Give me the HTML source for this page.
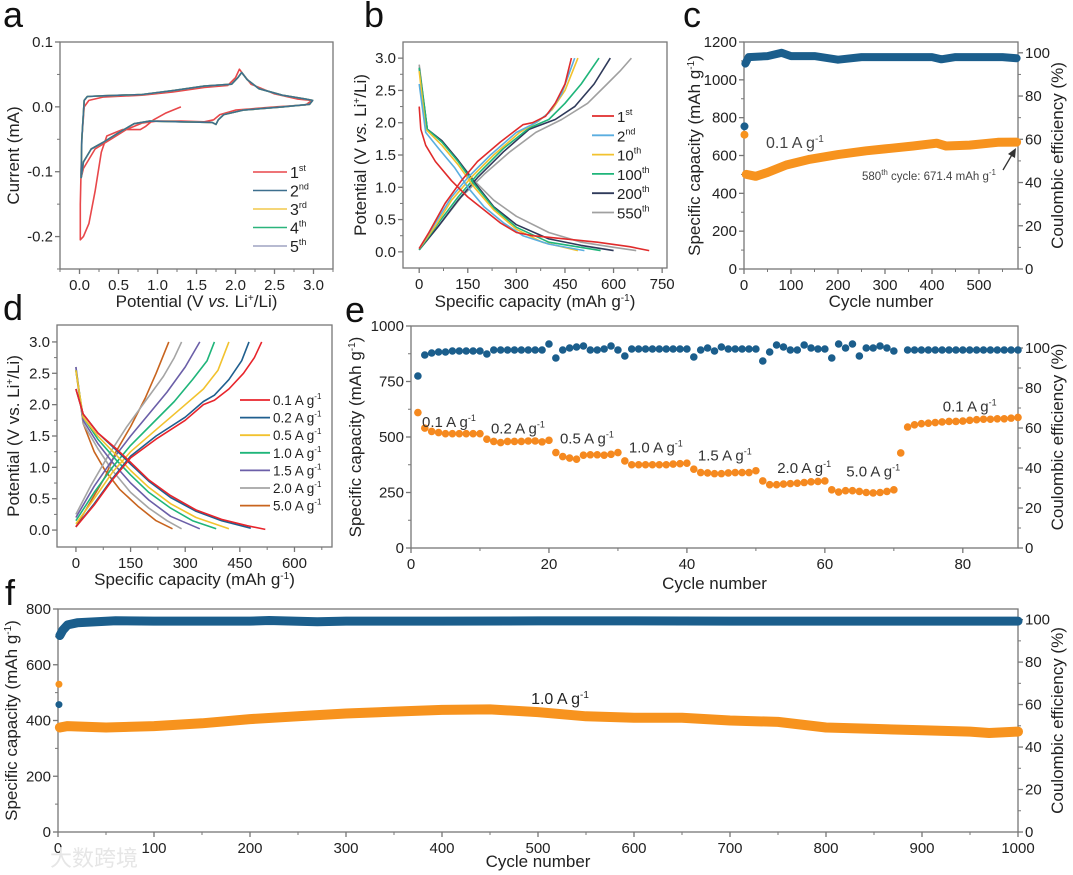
<!DOCTYPE html>
<html><head><meta charset="utf-8">
<style>
html,body{margin:0;padding:0;background:#fff;}
svg{display:block;font-family:"Liberation Sans",sans-serif;}
.n{font-family:"Liberation Sans Narrow","Liberation Sans",sans-serif;}
</style></head>
<body>
<svg id="fig" width="1073" height="875" viewBox="0 0 1073 875" xmlns="http://www.w3.org/2000/svg"></svg>
<script>
// ---------- Panel a data (CV) ----------
const cvCycle1 = [[1.3,0],[1.1,-0.01],[0.95,-0.02],[0.85,-0.03],[0.78,-0.035],[0.7,-0.035],[0.55,-0.035],[0.45,-0.04],[0.35,-0.045],[0.28,-0.07],[0.2,-0.13],[0.12,-0.18],[0.05,-0.2],[0.01,-0.205],[0.01,-0.15],[0.03,-0.05],[0.06,0],[0.12,0.01],[0.3,0.015],[0.8,0.018],[1.2,0.023],[1.6,0.03],[1.9,0.033],[2.0,0.045],[2.05,0.058],[2.1,0.05],[2.2,0.035],[2.5,0.02],[2.8,0.012],[2.98,0.01],[2.9,0.003],[2.5,0],[2.0,-0.005],[1.8,-0.012],[1.72,-0.02],[1.6,-0.023],[1.3,-0.022],[1.0,-0.022],[0.8,-0.025],[0.6,-0.035],[0.4,-0.05],[0.2,-0.065],[0.05,-0.095],[0.02,-0.11]];
const cvLater = [[0.02,-0.11],[0.03,-0.05],[0.06,0.01],[0.1,0.016],[0.3,0.017],[0.8,0.019],[1.2,0.025],[1.6,0.032],[1.95,0.035],[2.03,0.045],[2.08,0.053],[2.15,0.042],[2.3,0.028],[2.6,0.018],[2.9,0.012],[2.99,0.01],[2.95,0.004],[2.6,0],[2.1,-0.005],[1.85,-0.012],[1.78,-0.02],[1.75,-0.027],[1.7,-0.024],[1.3,-0.023],[0.9,-0.022],[0.7,-0.026],[0.5,-0.04],[0.3,-0.055],[0.15,-0.065],[0.05,-0.085],[0.02,-0.11]];
const cvLabels = ["1","2","3","4","5"];
const cvSup = ["st","nd","rd","th","th"];
const cvColors = ["#e8474a","#3d6f8e","#f2c94c","#2bb47c","#9fa3c2"];

// ---------- Panel b data (GCD per cycle) ----------
const bLabels=["1","2","10","100","200","550"];
const bSup=["st","nd","th","th","th","th"];
const bColors=["#e02b2b","#5aaee0","#f2c22e","#1fb57a","#2f3a5a","#a0a0a0"];
const bDis=[
[[0,2.25],[5,1.9],[20,1.65],[50,1.4],[100,1.1],[150,0.85],[200,0.65],[250,0.45],[300,0.3],[350,0.25],[450,0.2],[550,0.15],[650,0.08],[710,0.02]],
[[0,2.6],[20,1.85],[60,1.6],[110,1.3],[150,1.0],[200,0.7],[260,0.45],[320,0.25],[400,0.12],[510,0.02]],
[[0,2.8],[20,1.9],[70,1.65],[120,1.35],[170,1.0],[230,0.65],[300,0.35],[380,0.15],[490,0.02]],
[[0,2.85],[25,1.9],[70,1.7],[120,1.4],[170,1.05],[230,0.68],[300,0.38],[400,0.15],[560,0.02]],
[[0,2.85],[25,1.9],[70,1.72],[120,1.42],[170,1.08],[230,0.7],[300,0.42],[400,0.2],[500,0.1],[600,0.02]],
[[0,2.9],[25,1.9],[70,1.72],[120,1.42],[170,1.1],[230,0.8],[300,0.55],[400,0.3],[500,0.15],[600,0.07],[670,0.02]]];
const bCh=[
[[0,0.05],[30,0.3],[80,0.75],[130,1.1],[180,1.4],[250,1.7],[320,1.97],[350,2.0],[390,2.1],[420,2.3],[450,2.6],[470,3.0]],
[[0,0.05],[50,0.45],[100,0.85],[150,1.15],[220,1.5],[300,1.85],[360,2.0],[400,2.15],[440,2.45],[480,3.0]],
[[0,0.05],[50,0.4],[100,0.8],[160,1.15],[230,1.5],[310,1.85],[370,2.03],[410,2.2],[450,2.5],[490,3.0]],
[[0,0.03],[60,0.45],[120,0.85],[180,1.2],[260,1.6],[340,1.92],[400,2.05],[450,2.3],[500,2.6],[555,3.0]],
[[0,0.03],[60,0.4],[120,0.8],[180,1.15],[260,1.55],[340,1.9],[420,2.05],[480,2.25],[540,2.6],[590,3.0]],
[[0,0.03],[60,0.4],[130,0.85],[200,1.2],[280,1.55],[360,1.85],[440,2.05],[520,2.3],[580,2.6],[620,2.8],[655,3.0]]];

// ---------- Panel c data ----------
const cCapCycles=[1,5,25,50,90,140,200,260,300,360,410,430,480,540,580];
const cCapVals=[710,500,490,510,550,580,605,625,635,650,665,650,655,670,671];
const cCeCycles=[1,3,10,50,80,100,150,200,250,300,350,400,420,450,500,550,580];
const cCeVals=[66,95,98,98.5,100,98.5,98.5,96.8,98,98,98,98,97,98,98,98,97.5];

// ---------- Panel d data ----------
const dLabels=["0.1","0.2","0.5","1.0","1.5","2.0","5.0"];
const dColors=["#e8242b","#1f5f8f","#f2c22e","#1fb57a","#6b5fa8","#a5a5a5","#c8641e"];
const dDis=[
[[0,2.25],[20,1.85],[60,1.55],[110,1.3],[150,1.08],[200,0.8],[260,0.55],[330,0.32],[400,0.17],[470,0.07],[520,0.01]],
[[0,2.25],[20,1.85],[60,1.55],[110,1.28],[150,1.05],[200,0.78],[260,0.52],[330,0.3],[400,0.15],[480,0.03]],
[[0,2.55],[20,1.8],[60,1.5],[110,1.2],[150,0.95],[200,0.68],[260,0.42],[330,0.2],[420,0.02]],
[[0,2.55],[20,1.8],[60,1.45],[110,1.12],[150,0.88],[200,0.6],[260,0.35],[320,0.15],[385,0.02]],
[[0,2.6],[20,1.75],[60,1.38],[100,1.08],[150,0.75],[200,0.48],[260,0.22],[340,0.02]],
[[0,2.6],[20,1.7],[60,1.3],[100,0.95],[150,0.6],[200,0.35],[250,0.15],[290,0.02]],
[[0,2.55],[20,1.7],[50,1.25],[80,0.95],[120,0.65],[170,0.38],[220,0.15],[265,0.02]]];
const dCh=[
[[0,0.05],[50,0.4],[100,0.8],[150,1.15],[220,1.45],[300,1.75],[350,2.0],[380,2.07],[420,2.25],[460,2.5],[490,2.75],[510,3.0]],
[[0,0.05],[50,0.42],[100,0.82],[150,1.18],[220,1.5],[300,1.8],[350,2.05],[380,2.15],[420,2.4],[455,2.7],[475,3.0]],
[[0,0.1],[50,0.5],[100,0.92],[150,1.25],[220,1.6],[290,1.95],[350,2.25],[390,2.55],[420,3.0]],
[[0,0.15],[50,0.6],[100,1.0],[150,1.35],[210,1.7],[270,2.05],[320,2.4],[360,2.7],[380,3.0]],
[[0,0.2],[50,0.7],[100,1.12],[150,1.5],[200,1.85],[250,2.2],[300,2.6],[340,3.0]],
[[0,0.25],[40,0.7],[90,1.2],[140,1.65],[190,2.05],[240,2.45],[270,2.75],[290,3.0]],
[[0,0.05],[40,0.45],[80,0.85],[110,1.25],[150,1.65],[190,2.1],[220,2.5],[255,3.0]]];

// ---------- Panel e data (cycle 1..88) ----------
const eCap=[610,540,525,520,515,515,515,515,515,515,490,480,475,480,480,480,482,482,478,485,430,412,405,400,418,420,420,418,422,430,392,375,375,375,375,375,375,378,380,382,355,340,338,335,335,338,340,340,340,348,302,285,285,288,290,292,295,298,300,302,262,252,258,258,255,250,248,250,255,262,428,545,555,560,562,565,568,570,570,572,575,578,580,580,582,582,585,588];
const eCe=[86,96.5,97.5,98,98,98.5,98.5,98.5,98.5,98.5,97,99,99,99,99,99,99,99,99,102,95,99,100,100.5,101,99,99,99.5,101,99,96,99.5,99.5,99.5,99.5,99.5,99.5,99.5,99.5,99.5,95.5,99,100,98.5,100.5,99.5,99.5,99.5,99.5,99.5,93.5,98,101.5,100.5,99,99,101.5,100,99.5,99.5,95,102,100,102,96,100,100,101,100,98.5,null,99,99,99,99,99,99,99,99,99,99,99,99,99,99,99,99,99];
const eRateLabels=["0.1","0.2","0.5","1.0","1.5","2.0","5.0","0.1"];
const eRateCycle=[5.5,15.5,25.5,35.5,45.5,57,67,81];
const eRateCap=[545,515,470,430,395,338,322,615];

// ---------- Panel f data ----------
const fCapCycles=[1,2,10,50,100,150,200,250,300,350,400,450,500,550,600,650,700,750,800,850,900,950,970,1000];
const fCapVals=[530,375,380,375,380,390,405,415,425,432,438,440,430,415,410,410,400,395,375,370,365,360,355,360];
const fCeCycles=[1,2,5,10,20,60,100,200,220,270,300,400,500,600,700,800,900,1000];
const fCeVals=[60,92.5,95,97.5,98.5,99.5,99.3,99.3,99.6,99,99.3,99.3,99.4,99.4,99.3,99.3,99.3,99.3];

// ================= drawing =================
const NS="http://www.w3.org/2000/svg";
const svg=document.getElementById('fig');
function el(tag,attrs,parent){const e=document.createElementNS(NS,tag);for(const k in attrs)e.setAttribute(k,attrs[k]);(parent||svg).appendChild(e);return e;}
function scale(d0,d1,p0,p1){return v=>p0+(v-d0)/(d1-d0)*(p1-p0);}
function txt(x,y,s,size,anchor,parent,extra){const t=el('text',Object.assign({x:x,y:y,'font-size':size,'text-anchor':anchor||'middle',fill:'#222'},extra||{}),parent);t.innerHTML=s;return t;}
const AX='#777';
function axes(g,P){
  const f=el('rect',{x:P.x0,y:P.y1,width:P.x1-P.x0,height:P.y0-P.y1,fill:'none',stroke:AX,'stroke-width':1.3},g);
  
  
  const cls=P.narrow?'n':'';
  const fs=P.fs||15;
  P.xt.forEach((v,i)=>{const x=P.sx(v);el('line',{x1:x,x2:x,y1:P.y0,y2:P.y0+5,stroke:AX,'stroke-width':1.3},g);
    const t=txt(x,P.y0+21,P.xl[i],fs,'middle',g,{class:cls});});
  (P.xm||[]).forEach(v=>{const x=P.sx(v);el('line',{x1:x,x2:x,y1:P.y0,y2:P.y0+3,stroke:AX},g);});
  P.yt.forEach((v,i)=>{const y=P.sy(v);el('line',{x1:P.x0-5,x2:P.x0,y1:y,y2:y,stroke:AX,'stroke-width':1.3},g);
    const t=txt(P.x0-7,y+5,P.yl[i],fs,'end',g,{class:cls});});
  (P.ym||[]).forEach(v=>{const y=P.sy(v);el('line',{x1:P.x0-3,x2:P.x0,y1:y,y2:y,stroke:AX},g);});
  if(P.syR){P.ytR.forEach((v,i)=>{const y=P.syR(v);el('line',{x1:P.x1,x2:P.x1+5,y1:y,y2:y,stroke:AX,'stroke-width':1.3},g);
    const t=txt(P.x1+7,y+5,P.ylR[i],fs,'start',g,{class:cls});});
    (P.ymR||[]).forEach(v=>{const y=P.syR(v);el('line',{x1:P.x1,x2:P.x1+3,y1:y,y2:y,stroke:AX},g);});}
  const xt=txt((P.x0+P.x1)/2,P.xtY,P.xTitle,P.tfs||17,'middle',g,{class:cls});
  const yc=(P.y0+P.y1)/2;
  const yt=txt(P.ytX,yc,P.yTitle,P.tfs||17,'middle',g,{transform:`rotate(-90 ${P.ytX} ${yc})`,class:cls});
  if(P.yTitleR){const yr=txt(P.ytXR,yc,P.yTitleR,P.tfs||17,'middle',g,{transform:`rotate(-90 ${P.ytXR} ${yc})`,class:cls});}
  const lt=txt(P.lx,P.ly,P.letter,36,'start',g,{fill:'#111'});
}
function poly(g,pts,sx,sy,color,w){return el('polyline',{points:pts.map(p=>sx(p[0]).toFixed(1)+','+sy(p[1]).toFixed(1)).join(' '),fill:'none',stroke:color,'stroke-width':w||1.6,'stroke-linejoin':'round'},g);}
const sup="font-size:9px";

// ---- Panel a ----
(function(){
 const g=el('g',{});
 const sx=scale(-0.25,3.25,60,333), sy=scale(-0.25,0.1,269,42);
 axes(g,{x0:60,x1:333,y0:269,y1:42,sx,sy,xt:[0,0.5,1,1.5,2,2.5,3],xl:["0.0","0.5","1.0","1.5","2.0","2.5","3.0"],xm:[-0.25,0.25,0.75,1.25,1.75,2.25,2.75,3.25],
  yt:[0.1,0,-0.1,-0.2],yl:["0.1","0.0","-0.1","-0.2"],ym:[0.05,-0.05,-0.15,-0.25],xTitle:'Potential (V <tspan font-style="italic">vs.</tspan> Li<tspan dy="-6" font-size="10">+</tspan><tspan dy="6">/Li)</tspan>',xtY:307,yTitle:'Current (mA)',ytX:19,letter:'a',lx:3,ly:27});
 [0,4,3,2,1].forEach(i=>{const p=poly(g,i===0?cvCycle1:cvLater,sx,sy,cvColors[i],1.6);});
 cvLabels.forEach((l,i)=>{const y=172+i*18.5;el('line',{x1:253,x2:287,y1:y,y2:y,stroke:cvColors[i],'stroke-width':1.6},g);
  const t=txt(290,y+6,l+`<tspan dy="-7" style="${sup}">${cvSup[i]}</tspan>`,16,'start',g);});
})();

// ---- Panel b ----
(function(){
 const g=el('g',{});
 const sx=scale(-50,765,403,667), sy=scale(-0.25,3.25,268,42);
 axes(g,{x0:403,x1:667,y0:268,y1:42,sx,sy,xt:[0,150,300,450,600,750],xl:["0","150","300","450","600","750"],xm:[75,225,375,525,675],
  yt:[0,0.5,1,1.5,2,2.5,3],yl:["0.0","0.5","1.0","1.5","2.0","2.5","3.0"],ym:[0.25,0.75,1.25,1.75,2.25,2.75],
  xTitle:'Specific capacity (mAh g<tspan dy="-6" font-size="10">-1</tspan><tspan dy="6">)</tspan>',xtY:307,yTitle:'Potential (V <tspan font-style="italic">vs.</tspan> Li<tspan dy="-6" font-size="10">+</tspan><tspan dy="6">/Li)</tspan>',ytX:366,letter:'b',lx:364,ly:27});
 for(let i=5;i>=0;i--){const a=poly(g,bDis[i],sx,sy,bColors[i],1.6);
  const b=poly(g,bCh[i],sx,sy,bColors[i],1.6);}
 bLabels.forEach((l,i)=>{const y=116+i*19.3;el('line',{x1:592,x2:614,y1:y,y2:y,stroke:bColors[i],'stroke-width':1.8},g);
  const t=txt(617,y+6,l+`<tspan dy="-7" style="${sup}">${bSup[i]}</tspan>`,15,'start',g);});
})();

function band(g,cyc,vals,sx,sy,color,w,r,name){
 const p=el('polyline',{points:cyc.map((c,i)=>sx(c).toFixed(1)+','+sy(vals[i]).toFixed(1)).join(' '),fill:'none',stroke:color,'stroke-width':w,'stroke-linejoin':'round','stroke-linecap':'round'},g);
 
 cyc.forEach((c,i)=>{const m=el('circle',{cx:sx(c),cy:sy(vals[i]),r:r,fill:color},g);
  });
}

// ---- Panel c ----
(function(){
 const g=el('g',{});
 const sx=scale(0,583,744,1018), sy=scale(0,1200,269,42), syR=scale(0,105,269,42);
 axes(g,{x0:744,x1:1018,y0:269,y1:42,sx,sy,syR,xt:[0,100,200,300,400,500],xl:["0","100","200","300","400","500"],xm:[50,150,250,350,450,550],
  yt:[0,200,400,600,800,1000,1200],yl:["0","200","400","600","800","1000","1200"],ym:[100,300,500,700,900,1100],
  ytR:[0,20,40,60,80,100],ylR:["0","20","40","60","80","100"],ymR:[10,30,50,70,90],
  xTitle:'Cycle number',xtY:307,yTitle:'Specific capacity (mAh g<tspan dy="-6" font-size="10">-1</tspan><tspan dy="6">)</tspan>',ytX:700,yTitleR:'Coulombic efficiency (%)',ytXR:1063,letter:'c',lx:683,ly:27});
 band(g,cCeCycles.slice(1),cCeVals.slice(1),sx,syR,'#1b5e8c',8,3,'ce');
 const c1=el('circle',{cx:sx(cCeCycles[0]),cy:syR(cCeVals[0]),r:4,fill:'#1b5e8c'},g);
 band(g,cCapCycles.slice(1),cCapVals.slice(1),sx,sy,'#f7931e',9,3,'capacity');
 const c2=el('circle',{cx:sx(cCapCycles[0]),cy:sy(cCapVals[0]),r:4,fill:'#f7931e'},g);
 const t=txt(766,148,'0.1 A g<tspan dy="-6" font-size="10">-1</tspan>',16,'start',g,{fill:'#444'});
 const t2=txt(862,180,'580<tspan dy="-5" font-size="8">th</tspan><tspan dy="5"> cycle: 671.4 mAh g</tspan><tspan dy="-5" font-size="8">-1</tspan>',11.5,'start',g,{fill:'#444'});
 const ar=el('line',{x1:1003,y1:170,x2:1013,y2:153,stroke:'#333','stroke-width':1.3},g);
 el('polygon',{points:'1016,148 1008,154 1015,158',fill:'#333'},g);
})();

// ---- Panel d ----
(function(){
 const g=el('g',{});
 const sx=scale(-52,703,57,332), sy=scale(-0.27,3.27,547,325);
 axes(g,{x0:57,x1:332,y0:547,y1:325,sx,sy,xt:[0,150,300,450,600],xl:["0","150","300","450","600"],xm:[75,225,375,525,675],
  yt:[0,0.5,1,1.5,2,2.5,3],yl:["0.0","0.5","1.0","1.5","2.0","2.5","3.0"],ym:[0.25,0.75,1.25,1.75,2.25,2.75],
  xTitle:'Specific capacity (mAh g<tspan dy="-6" font-size="10">-1</tspan><tspan dy="6">)</tspan>',xtY:585,yTitle:'Potential (V vs. Li<tspan dy="-6" font-size="10">+</tspan><tspan dy="6">/Li)</tspan>',ytX:19,letter:'d',lx:3,ly:320});
 for(let i=6;i>=0;i--){const a=poly(g,dDis[i],sx,sy,dColors[i],1.6);
  const b=poly(g,dCh[i],sx,sy,dColors[i],1.6);}
 dLabels.forEach((l,i)=>{const y=400+i*17.6;el('line',{x1:240,x2:270,y1:y,y2:y,stroke:dColors[i],'stroke-width':1.8},g);
  const t=txt(273,y+5,l+' A g<tspan dy="-6" font-size="8">-1</tspan>',13.5,'start',g);});
})();

// ---- Panel e ----
(function(){
 const g=el('g',{});
 const sx=scale(0,88,411,1018), sy=scale(0,1000,548,326), syR=scale(0,111,548,326);
 axes(g,{narrow:true,x0:411,x1:1018,y0:548,y1:326,sx,sy,syR,xt:[0,20,40,60,80],xl:["0","20","40","60","80"],xm:[10,30,50,70],
  yt:[0,250,500,750,1000],yl:["0","250","500","750","1000"],ym:[125,375,625,875],
  ytR:[0,20,40,60,80,100],ylR:["0","20","40","60","80","100"],ymR:[10,30,50,70,90],
  xTitle:'Cycle number',xtY:589,yTitle:'Specific capacity (mAh g<tspan dy="-6" font-size="10">-1</tspan><tspan dy="6">)</tspan>',ytX:361,yTitleR:'Coulombic efficiency (%)',ytXR:1063,letter:'e',lx:345,ly:322});
 eCe.forEach((v,i)=>{if(v===null)return;const c=el('circle',{cx:sx(i+1),cy:syR(v),r:3.8,fill:'#1b5e8c'},g);});
 eCap.forEach((v,i)=>{const c=el('circle',{cx:sx(i+1),cy:sy(v),r:3.8,fill:'#f5891f'},g);});
 eRateLabels.forEach((l,i)=>{const t=txt(sx(eRateCycle[i]),sy(eRateCap[i]),l+' A g<tspan dy="-6" font-size="9">-1</tspan>',15,'middle',g,{class:'n',fill:'#333'});});
})();

// ---- Panel f ----
(function(){
 const g=el('g',{});
 const sx=scale(0,1000,58,1018), sy=scale(0,800,832,609), syR=scale(0,105,832,609);
 axes(g,{x0:58,x1:1018,y0:832,y1:609,sx,sy,syR,xt:[0,100,200,300,400,500,600,700,800,900,1000],xl:["0","100","200","300","400","500","600","700","800","900","1000"],xm:[50,150,250,350,450,550,650,750,850,950],
  yt:[0,200,400,600,800],yl:["0","200","400","600","800"],ym:[100,300,500,700],
  ytR:[0,20,40,60,80,100],ylR:["0","20","40","60","80","100"],ymR:[10,30,50,70,90],
  xTitle:'Cycle number',xtY:867,yTitle:'Specific capacity (mAh g<tspan dy="-6" font-size="10">-1</tspan><tspan dy="6">)</tspan>',ytX:17,yTitleR:'Coulombic efficiency (%)',ytXR:1063,letter:'f',lx:5,ly:605});
 band(g,fCeCycles.slice(1),fCeVals.slice(1),sx,syR,'#1b5e8c',9,3,'ce');
 const c1=el('circle',{cx:sx(fCeCycles[0]),cy:syR(fCeVals[0]),r:3.5,fill:'#1b5e8c'},g);
 band(g,fCapCycles.slice(1),fCapVals.slice(1),sx,sy,'#f7931e',10,3,'capacity');
 const c2=el('circle',{cx:sx(fCapCycles[0]),cy:sy(fCapVals[0]),r:3.5,fill:'#f7931e'},g);
 const t=txt(560,704,'1.0 A g<tspan dy="-6" font-size="10">-1</tspan>',16,'middle',g);
 const w=txt(50,866,'大数跨境',22,'start',g,{fill:'#e6e6e6',style:'font-family:"Liberation Sans","Noto Sans CJK SC",sans-serif'});
})();
</script>
</body></html>
